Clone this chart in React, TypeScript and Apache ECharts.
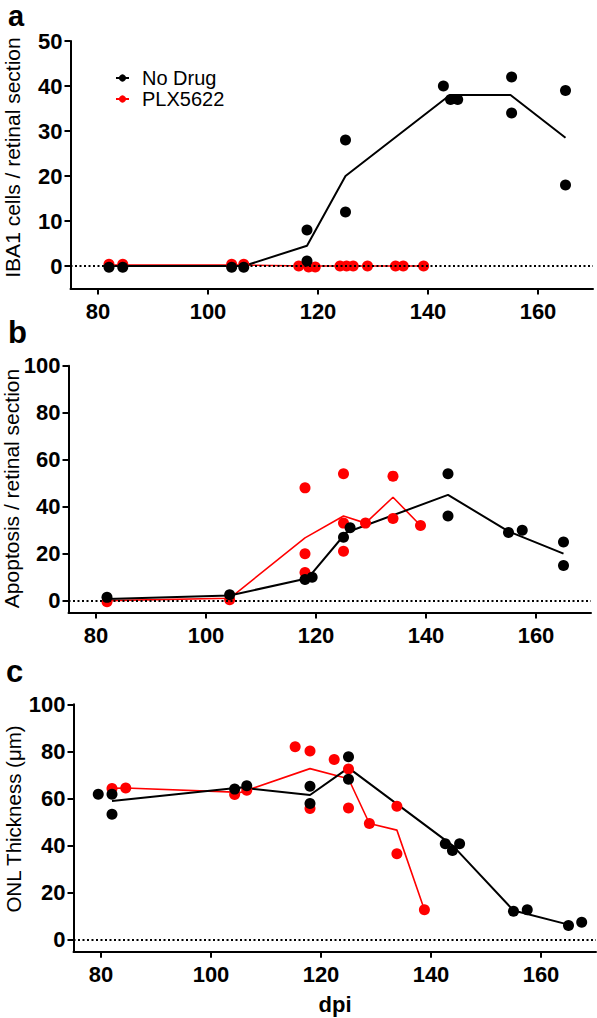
import React, { useEffect, useRef } from "react";
import * as echarts from "echarts";

// ---------- tick labels ----------
const xTicks = [80, 100, 120, 140, 160];
const aYTicks = [0, 10, 20, 30, 40, 50];
const bcYTicks = [0, 20, 40, 60, 80, 100];

// ---------- panel a : IBA1 cells ----------
const aNoDrugX = [82, 84.5, 104.3, 106.5, 118, 118, 125, 125, 142.8, 144.1, 145.4, 155.2, 155.2, 165, 165];
const aNoDrugY = [-0.3, -0.3, -0.3, -0.3, 8, 1.1, 28, 12, 40, 37, 37, 42, 34, 39, 18];
const aNoDrugMeanX = [82, 84.5, 104.3, 106.5, 118, 125, 144, 155, 165];
const aNoDrugMeanY = [0, 0, 0, 0, 4.5, 20, 38, 38, 28.5];
const aPlxX = [82, 84.5, 104.3, 106.5, 116.5, 118.3, 119.5, 124, 125.2, 126.4, 129, 134.1, 135.5, 139.2];
const aPlxY = [0.4, 0.4, 0.4, 0.4, 0, -0.2, -0.2, 0, 0, 0, 0, 0, 0, 0];
const aPlxMeanX = [82, 84.5, 104.3, 106.5, 118, 125, 129, 134.5, 139.2];
const aPlxMeanY = [0.2, 0.2, 0.2, 0.2, 0, 0, 0, 0, 0];

// ---------- panel b : Apoptosis ----------
const bNoDrugX = [82, 104.3, 118, 119.3, 125, 126.2, 144, 144, 155, 157.5, 165, 165];
const bNoDrugY = [1.4, 2.5, 9, 10, 27, 31, 54, 36, 29, 30, 25, 15];
const bNoDrugMeanX = [82, 104.3, 118.5, 125.5, 144, 155, 165];
const bNoDrugMeanY = [0.7, 2.2, 9.5, 29, 45, 29.5, 20];
const bPlxX = [82, 104.3, 118, 118, 118, 125, 125, 125, 129, 134, 134, 139];
const bPlxY = [-0.5, 0.4, 48, 20, 12, 54, 33, 21, 33, 53, 35, 32];
const bPlxMeanX = [82, 104.3, 118, 125, 129, 134, 139];
const bPlxMeanY = [0, 1, 26.7, 36, 33, 44, 32];

// ---------- panel c : ONL thickness ----------
const cNoDrugX = [79.5, 82, 82, 104.3, 106.5, 118, 118, 125, 125, 142.6, 143.9, 145.2, 155, 157.5, 165, 167.4];
const cNoDrugY = [61.8, 61.8, 53.3, 64, 65.4, 65.2, 57.9, 77.7, 68.2, 40.8, 38, 40.8, 12.2, 12.8, 6.1, 7.5];
const cNoDrugMeanX = [82, 105.4, 118, 125, 144, 155, 165];
const cNoDrugMeanY = [59, 64.7, 61.5, 73, 39.9, 12.5, 6.5];
const cPlxX = [82, 84.5, 104.3, 106.5, 115.3, 118, 118, 122.4, 125, 125, 128.8, 133.8, 133.8, 138.8];
const cPlxY = [64.3, 64.5, 61.7, 63.5, 82, 80.2, 55.8, 76.6, 72.5, 56, 49.4, 56.7, 36.6, 12.8];
const cPlxMeanX = [82, 84.5, 105.4, 118, 125, 128.8, 133.8, 138.8];
const cPlxMeanY = [64.3, 64.5, 62.6, 72.7, 68.4, 49.4, 46.6, 12.8];

const BLACK = "#000000";
const RED = "#ff0000";
const FONT = "Liberation Sans";

const zip = (xs: number[], ys: number[]) => xs.map((x, i) => [x, ys[i]]);

function xAxisFor(gridIndex: number) {
  return {
    type: "value",
    gridIndex,
    min: 75,
    max: 170,
    axisLine: { show: true, onZero: false, lineStyle: { color: BLACK, width: 2 } },
    axisTick: { show: true, customValues: xTicks, length: 6, lineStyle: { color: BLACK, width: 2 } },
    axisLabel: { customValues: xTicks, color: BLACK, fontSize: 22, fontWeight: "bold", fontFamily: FONT, margin: 12 },
    splitLine: { show: false },
  };
}

function yAxisFor(gridIndex: number, max: number, ticks: number[]) {
  return {
    type: "value",
    gridIndex,
    min: -5,
    max,
    axisLine: { show: true, onZero: false, lineStyle: { color: BLACK, width: 2 } },
    axisTick: { show: true, customValues: ticks, length: 6, lineStyle: { color: BLACK, width: 2 } },
    axisLabel: { customValues: ticks, color: BLACK, fontSize: 22, fontWeight: "bold", fontFamily: FONT, margin: 8 },
    splitLine: { show: false },
  };
}

const zeroLine = {
  silent: true,
  symbol: ["none", "none"],
  label: { show: false },
  lineStyle: { type: [2, 2.5], color: BLACK, width: 2 },
  data: [{ yAxis: 0 }],
};

function lineSeries(name: string, idx: number, xs: number[], ys: number[], color: string, width: number, withZero = false) {
  const s: any = {
    name,
    type: "line",
    xAxisIndex: idx,
    yAxisIndex: idx,
    data: zip(xs, ys),
    symbol: "circle",
    showSymbol: false,
    lineStyle: { color, width },
    itemStyle: { color },
    z: 3,
  };
  if (withZero) s.markLine = zeroLine;
  return s;
}

function scatterSeries(name: string, idx: number, xs: number[], ys: number[], color: string) {
  return {
    name,
    type: "scatter",
    xAxisIndex: idx,
    yAxisIndex: idx,
    data: zip(xs, ys),
    symbol: "circle",
    symbolSize: 11,
    itemStyle: { color, opacity: 1 },
    z: 4,
  };
}

export default function App() {
  const ref = useRef<HTMLDivElement>(null);
  useEffect(() => {
    if (!ref.current) return;
    const chart = echarts.init(ref.current, undefined, { renderer: "svg" });
    const option: any = {
      animation: false,
      backgroundColor: "#ffffff",
      grid: [
        { left: 70.5, top: 41, width: 522.5, height: 247.5 },
        { left: 68.5, top: 365.7, width: 522.5, height: 246.7 },
        { left: 73.5, top: 704.3, width: 522.5, height: 247.4 },
      ],
      xAxis: [xAxisFor(0), xAxisFor(1), xAxisFor(2)],
      yAxis: [yAxisFor(0, 50, aYTicks), yAxisFor(1, 100, bcYTicks), yAxisFor(2, 100, bcYTicks)],
      legend: {
        data: ["No Drug", "PLX5622"],
        orient: "vertical",
        left: 110,
        top: 63,
        itemWidth: 13,
        itemHeight: 9,
        itemGap: 1,
        selectedMode: false,
        textStyle: { fontSize: 20, fontFamily: FONT, color: BLACK, padding: [0, 0, 0, 8] },
      },
      series: [
        // panel a
        lineSeries("PLX5622", 0, aPlxMeanX, aPlxMeanY, RED, 1.6, true),
        lineSeries("No Drug", 0, aNoDrugMeanX, aNoDrugMeanY, BLACK, 2),
        scatterSeries("PLX5622 a points", 0, aPlxX, aPlxY, RED),
        scatterSeries("No Drug a points", 0, aNoDrugX, aNoDrugY, BLACK),
        // panel b
        lineSeries("PLX5622 b mean", 1, bPlxMeanX, bPlxMeanY, RED, 1.6, true),
        lineSeries("No Drug b mean", 1, bNoDrugMeanX, bNoDrugMeanY, BLACK, 2),
        scatterSeries("PLX5622 b points", 1, bPlxX, bPlxY, RED),
        scatterSeries("No Drug b points", 1, bNoDrugX, bNoDrugY, BLACK),
        // panel c
        lineSeries("PLX5622 c mean", 2, cPlxMeanX, cPlxMeanY, RED, 1.6, true),
        lineSeries("No Drug c mean", 2, cNoDrugMeanX, cNoDrugMeanY, BLACK, 2),
        scatterSeries("PLX5622 c points", 2, cPlxX, cPlxY, RED),
        scatterSeries("No Drug c points", 2, cNoDrugX, cNoDrugY, BLACK),
      ],
      graphic: [
        { type: "text", x: 8, y: 16, style: { text: "a", font: `bold 29px "${FONT}"`, fill: BLACK, verticalAlign: "middle" } },
        { type: "text", x: 8, y: 332.8, style: { text: "b", font: `bold 31px "${FONT}"`, fill: BLACK, verticalAlign: "middle" } },
        { type: "text", x: 6, y: 671.3, style: { text: "c", font: `bold 31px "${FONT}"`, fill: BLACK, verticalAlign: "middle" } },
        {
          type: "text", x: 12, y: 157.5, rotation: Math.PI / 2,
          style: { text: "IBA1 cells / retinal section", font: `21px "${FONT}"`, fill: BLACK, align: "center", verticalAlign: "middle" },
        },
        {
          type: "text", x: 11.5, y: 488.5, rotation: Math.PI / 2,
          style: { text: "Apoptosis / retinal section", font: `21px "${FONT}"`, fill: BLACK, align: "center", verticalAlign: "middle" },
        },
        {
          type: "text", x: 13, y: 819, rotation: Math.PI / 2,
          style: { text: "ONL Thickness (μm)", font: `20.5px "${FONT}"`, fill: BLACK, align: "center", verticalAlign: "middle" },
        },
        {
          type: "text", x: 335, y: 1004,
          style: { text: "dpi", font: `bold 22px "${FONT}"`, fill: BLACK, align: "center", verticalAlign: "middle" },
        },
      ],
    };
    chart.setOption(option);
    return () => chart.dispose();
  }, []);
  return <div ref={ref} style={{ position: "absolute", left: 0, top: 0, width: 597, height: 1018 }} />;
}
